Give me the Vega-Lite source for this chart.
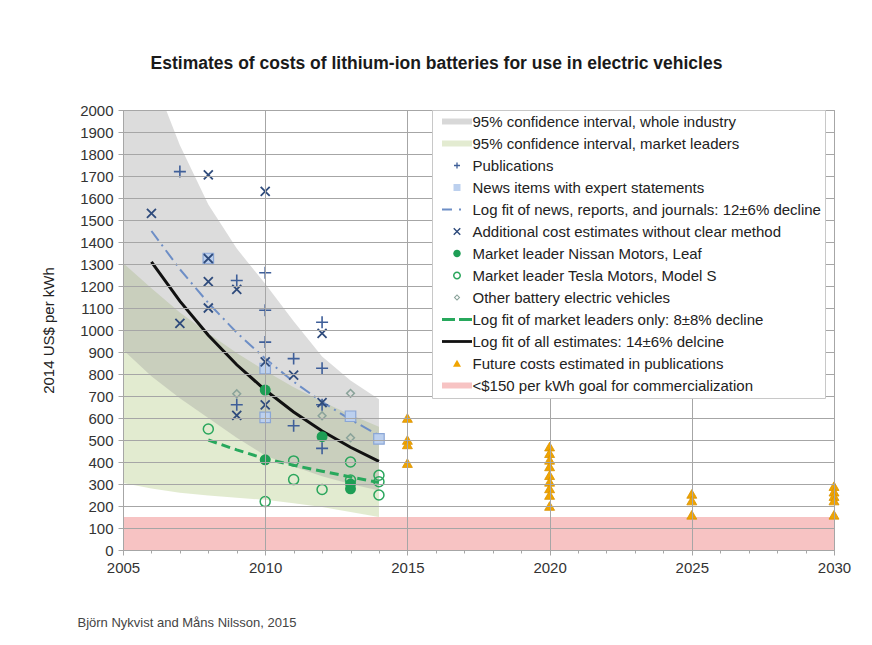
{
  "$schema": "https://vega.github.io/schema/vega-lite/v6.json",
  "autosize": {"type": "none"},
  "width": 711,
  "height": 440,
  "padding": {"left": 123, "top": 110, "right": 38, "bottom": 95},
  "background": "white",
  "title": {"text": "Estimates of costs of lithium-ion batteries for use in electric vehicles", "anchor": "middle", "frame": "group", "dx": -42, "offset": 31, "fontSize": 17.5, "fontWeight": "bold", "color": "#1a1a1a"},
  "datasets": {
    "bands": [
      {"series": "<$150 per kWh goal for commercialization", "year": 2005, "value": 150, "lo": 0},
      {"series": "<$150 per kWh goal for commercialization", "year": 2030, "value": 150, "lo": 0},
      {"series": "95% confidence interval, market leaders", "year": 2005, "value": 1304, "lo": 305},
      {"series": "95% confidence interval, market leaders", "year": 2006, "value": 1190, "lo": 280},
      {"series": "95% confidence interval, market leaders", "year": 2007, "value": 1080, "lo": 260},
      {"series": "95% confidence interval, market leaders", "year": 2008, "value": 985, "lo": 248},
      {"series": "95% confidence interval, market leaders", "year": 2009, "value": 895, "lo": 238},
      {"series": "95% confidence interval, market leaders", "year": 2010, "value": 815, "lo": 228},
      {"series": "95% confidence interval, market leaders", "year": 2011, "value": 740, "lo": 212},
      {"series": "95% confidence interval, market leaders", "year": 2012, "value": 675, "lo": 195},
      {"series": "95% confidence interval, market leaders", "year": 2013, "value": 615, "lo": 173},
      {"series": "95% confidence interval, market leaders", "year": 2014, "value": 560, "lo": 150},
      {"series": "95% confidence interval, whole industry", "year": 2005, "value": 2550, "lo": 910},
      {"series": "95% confidence interval, whole industry", "year": 2006, "value": 2170, "lo": 790},
      {"series": "95% confidence interval, whole industry", "year": 2007, "value": 1840, "lo": 690},
      {"series": "95% confidence interval, whole industry", "year": 2008, "value": 1570, "lo": 600},
      {"series": "95% confidence interval, whole industry", "year": 2009, "value": 1370, "lo": 510},
      {"series": "95% confidence interval, whole industry", "year": 2010, "value": 1210, "lo": 430},
      {"series": "95% confidence interval, whole industry", "year": 2011, "value": 1040, "lo": 380},
      {"series": "95% confidence interval, whole industry", "year": 2012, "value": 880, "lo": 335},
      {"series": "95% confidence interval, whole industry", "year": 2013, "value": 770, "lo": 300},
      {"series": "95% confidence interval, whole industry", "year": 2014, "value": 685, "lo": 270}
    ],
    "lines": [
      {"series": "Log fit of market leaders only: 8±8% decline", "year": 2008, "value": 500},
      {"series": "Log fit of market leaders only: 8±8% decline", "year": 2009, "value": 455},
      {"series": "Log fit of market leaders only: 8±8% decline", "year": 2010, "value": 415},
      {"series": "Log fit of market leaders only: 8±8% decline", "year": 2011, "value": 385},
      {"series": "Log fit of market leaders only: 8±8% decline", "year": 2012, "value": 358},
      {"series": "Log fit of market leaders only: 8±8% decline", "year": 2013, "value": 332},
      {"series": "Log fit of market leaders only: 8±8% decline", "year": 2014, "value": 307},
      {"series": "Log fit of news, reports, and journals: 12±6% decline", "year": 2006, "value": 1450},
      {"series": "Log fit of news, reports, and journals: 12±6% decline", "year": 2007, "value": 1276},
      {"series": "Log fit of news, reports, and journals: 12±6% decline", "year": 2008, "value": 1123},
      {"series": "Log fit of news, reports, and journals: 12±6% decline", "year": 2009, "value": 988},
      {"series": "Log fit of news, reports, and journals: 12±6% decline", "year": 2010, "value": 870},
      {"series": "Log fit of news, reports, and journals: 12±6% decline", "year": 2011, "value": 765},
      {"series": "Log fit of news, reports, and journals: 12±6% decline", "year": 2012, "value": 673},
      {"series": "Log fit of news, reports, and journals: 12±6% decline", "year": 2013, "value": 593},
      {"series": "Log fit of news, reports, and journals: 12±6% decline", "year": 2014, "value": 521},
      {"series": "Log fit of all estimates: 14±6% delcine", "year": 2006, "value": 1310},
      {"series": "Log fit of all estimates: 14±6% delcine", "year": 2007, "value": 1131},
      {"series": "Log fit of all estimates: 14±6% delcine", "year": 2008, "value": 976},
      {"series": "Log fit of all estimates: 14±6% delcine", "year": 2009, "value": 842},
      {"series": "Log fit of all estimates: 14±6% delcine", "year": 2010, "value": 727},
      {"series": "Log fit of all estimates: 14±6% delcine", "year": 2011, "value": 627},
      {"series": "Log fit of all estimates: 14±6% delcine", "year": 2012, "value": 541},
      {"series": "Log fit of all estimates: 14±6% delcine", "year": 2013, "value": 467},
      {"series": "Log fit of all estimates: 14±6% delcine", "year": 2014, "value": 403}
    ],
    "points": [
      {"series": "Publications", "year": 2007, "value": 1720},
      {"series": "Publications", "year": 2009, "value": 1225},
      {"series": "Publications", "year": 2010, "value": 1260},
      {"series": "Publications", "year": 2010, "value": 1090},
      {"series": "Publications", "year": 2010, "value": 945},
      {"series": "Publications", "year": 2011, "value": 870},
      {"series": "Publications", "year": 2012, "value": 1035},
      {"series": "Publications", "year": 2012, "value": 826},
      {"series": "Publications", "year": 2009, "value": 660},
      {"series": "Publications", "year": 2011, "value": 565},
      {"series": "Publications", "year": 2012, "value": 462},
      {"series": "Publications", "year": 2012, "value": 660},
      {"series": "Additional cost estimates without clear method", "year": 2006, "value": 1530},
      {"series": "Additional cost estimates without clear method", "year": 2008, "value": 1705},
      {"series": "Additional cost estimates without clear method", "year": 2010, "value": 1630},
      {"series": "Additional cost estimates without clear method", "year": 2008, "value": 1325},
      {"series": "Additional cost estimates without clear method", "year": 2008, "value": 1220},
      {"series": "Additional cost estimates without clear method", "year": 2008, "value": 1100},
      {"series": "Additional cost estimates without clear method", "year": 2007, "value": 1030},
      {"series": "Additional cost estimates without clear method", "year": 2009, "value": 1185},
      {"series": "Additional cost estimates without clear method", "year": 2012, "value": 985},
      {"series": "Additional cost estimates without clear method", "year": 2010, "value": 855},
      {"series": "Additional cost estimates without clear method", "year": 2011, "value": 795},
      {"series": "Additional cost estimates without clear method", "year": 2012, "value": 670},
      {"series": "Additional cost estimates without clear method", "year": 2009, "value": 612},
      {"series": "Additional cost estimates without clear method", "year": 2010, "value": 660},
      {"series": "News items with expert statements", "year": 2008, "value": 1325},
      {"series": "News items with expert statements", "year": 2010, "value": 825},
      {"series": "News items with expert statements", "year": 2010, "value": 603},
      {"series": "News items with expert statements", "year": 2013, "value": 608},
      {"series": "News items with expert statements", "year": 2014, "value": 505},
      {"series": "Market leader Nissan Motors, Leaf", "year": 2010, "value": 727},
      {"series": "Market leader Nissan Motors, Leaf", "year": 2010, "value": 410},
      {"series": "Market leader Nissan Motors, Leaf", "year": 2012, "value": 515},
      {"series": "Market leader Nissan Motors, Leaf", "year": 2013, "value": 300},
      {"series": "Market leader Nissan Motors, Leaf", "year": 2013, "value": 278},
      {"series": "Market leader Tesla Motors, Model S", "year": 2008, "value": 550},
      {"series": "Market leader Tesla Motors, Model S", "year": 2010, "value": 220},
      {"series": "Market leader Tesla Motors, Model S", "year": 2011, "value": 405},
      {"series": "Market leader Tesla Motors, Model S", "year": 2011, "value": 320},
      {"series": "Market leader Tesla Motors, Model S", "year": 2012, "value": 275},
      {"series": "Market leader Tesla Motors, Model S", "year": 2013, "value": 400},
      {"series": "Market leader Tesla Motors, Model S", "year": 2013, "value": 318},
      {"series": "Market leader Tesla Motors, Model S", "year": 2014, "value": 340},
      {"series": "Market leader Tesla Motors, Model S", "year": 2014, "value": 310},
      {"series": "Market leader Tesla Motors, Model S", "year": 2014, "value": 250},
      {"series": "Other battery electric vehicles", "year": 2009, "value": 710},
      {"series": "Other battery electric vehicles", "year": 2012, "value": 610},
      {"series": "Other battery electric vehicles", "year": 2013, "value": 712},
      {"series": "Other battery electric vehicles", "year": 2013, "value": 510},
      {"series": "Future costs estimated in publications", "year": 2015, "value": 600},
      {"series": "Future costs estimated in publications", "year": 2015, "value": 500},
      {"series": "Future costs estimated in publications", "year": 2015, "value": 480},
      {"series": "Future costs estimated in publications", "year": 2015, "value": 395},
      {"series": "Future costs estimated in publications", "year": 2020, "value": 470},
      {"series": "Future costs estimated in publications", "year": 2020, "value": 440},
      {"series": "Future costs estimated in publications", "year": 2020, "value": 410},
      {"series": "Future costs estimated in publications", "year": 2020, "value": 380},
      {"series": "Future costs estimated in publications", "year": 2020, "value": 340},
      {"series": "Future costs estimated in publications", "year": 2020, "value": 310},
      {"series": "Future costs estimated in publications", "year": 2020, "value": 280},
      {"series": "Future costs estimated in publications", "year": 2020, "value": 250},
      {"series": "Future costs estimated in publications", "year": 2020, "value": 200},
      {"series": "Future costs estimated in publications", "year": 2025, "value": 255},
      {"series": "Future costs estimated in publications", "year": 2025, "value": 225},
      {"series": "Future costs estimated in publications", "year": 2025, "value": 160},
      {"series": "Future costs estimated in publications", "year": 2030, "value": 290},
      {"series": "Future costs estimated in publications", "year": 2030, "value": 265},
      {"series": "Future costs estimated in publications", "year": 2030, "value": 245},
      {"series": "Future costs estimated in publications", "year": 2030, "value": 225},
      {"series": "Future costs estimated in publications", "year": 2030, "value": 160}
    ]
  },
  "encoding": {
    "x": {
      "field": "year", "type": "quantitative",
      "scale": {"domain": [2005, 2030], "nice": false, "zero": false},
      "axis": {
        "values": [2005,2006,2007,2008,2009,2010,2011,2012,2013,2014,2015,2016,2017,2018,2019,2020,2021,2022,2023,2024,2025,2026,2027,2028,2029,2030],
        "format": "d",
        "labelExpr": "datum.value % 5 === 0 ? datum.label : ''",
        "labelOverlap": false,
        "labelFlush": false,
        "labelBound": false,
        "grid": true,
        "gridColor": "#a6a6a6",
        "gridOpacity": {"condition": {"test": "datum.value % 5 === 0", "value": 1}, "value": 0},
        "tickSize": {"condition": {"test": "datum.value % 5 === 0", "value": 5}, "value": 3},
        "tickColor": "#a6a6a6",
        "domainColor": "#a6a6a6",
        "labelFontSize": 15,
        "labelColor": "#333333",
        "labelPadding": 5,
        "title": "Björn Nykvist and Måns Nilsson, 2015",
        "titleX": -46,
        "titleY": 72,
        "titleAlign": "left",
        "titleBaseline": "middle",
        "titleFontSize": 13,
        "titleFontWeight": "normal",
        "titleColor": "#444444",
        "zindex": 1
      }
    },
    "y": {
      "field": "value", "type": "quantitative",
      "scale": {"domain": [0, 2000], "nice": false, "zero": true},
      "axis": {
        "values": [0,100,200,300,400,500,600,700,800,900,1000,1100,1200,1300,1400,1500,1600,1700,1800,1900,2000],
        "format": "d",
        "grid": true,
        "gridColor": "#a6a6a6",
        "tickColor": "#a6a6a6",
        "tickSize": 5,
        "domainColor": "#a6a6a6",
        "labelFontSize": 15,
        "labelColor": "#333333",
        "labelPadding": 5,
        "title": "2014 US$ per kWh",
        "titleX": -75,
        "titleY": 220,
        "titleAngle": 270,
        "titleAlign": "center",
        "titleBaseline": "middle",
        "titleFontSize": 15,
        "titleFontWeight": "normal",
        "titleColor": "#222222",
        "zindex": 1
      }
    },
    "color": {
      "field": "series", "type": "nominal",
      "scale": {
        "domain": [
          "95% confidence interval, whole industry",
          "95% confidence interval, market leaders",
          "Publications",
          "News items with expert statements",
          "Log fit of news, reports, and journals: 12±6% decline",
          "Additional cost estimates without clear method",
          "Market leader Nissan Motors, Leaf",
          "Market leader Tesla Motors, Model S",
          "Other battery electric vehicles",
          "Log fit of market leaders only: 8±8% decline",
          "Log fit of all estimates: 14±6% delcine",
          "Future costs estimated in publications",
          "<$150 per kWh goal for commercialization"
        ],
        "range": ["#d8d8d8", "#e3ebd1", "#3f5f99", "#bcd0ee", "#6d8ec6", "#2f4b7c", "#1e9e55", "#2aa65c", "#8aa39a", "#27a85c", "#111111", "#f0a400", "#f7c3c3"]
      },
      "legend": {
        "title": null,
        "orient": "none",
        "legendX": 309,
        "legendY": 0,
        "fillColor": "white",
        "strokeColor": "#c8c8c8",
        "padding": 4,
        "symbolSize": 100,
        "symbolStrokeWidth": 0,
        "symbolOffset": -1.5,
        "labelOffset": 23,
        "labelFontSize": 15,
        "labelColor": "#222222",
        "labelLimit": 0,
        "rowPadding": 6,
        "zindex": 2,
        "encode": {
          "symbols": {
            "update": {
              "shape": {"signal": "['M0,-0.6H6V0.6H0Z','M0,-0.6H6V0.6H0Z','M2.4,-0.13H3.6V0.13H2.4ZM2.87,-0.6H3.13V0.6H2.87Z','M2.3,-0.7H3.7V0.7H2.3Z','M0,-0.2H2V0.2H0ZM3.4,-0.2H3.8V0.2H3.4Z','M2.45,-0.75L3.75,0.55L3.55,0.75L2.25,-0.55ZM2.25,0.55L3.55,-0.75L3.75,-0.55L2.45,0.75Z','M2.25,0A0.75,0.75 0 1,1 3.75,0A0.75,0.75 0 1,1 2.25,0Z','M2.2,0A0.8,0.8 0 1,1 3.8,0A0.8,0.8 0 1,1 2.2,0ZM2.5,0A0.5,0.5 0 1,0 3.5,0A0.5,0.5 0 1,0 2.5,0Z','M3,-0.65L3.65,0L3,0.65L2.35,0ZM3,-0.35L2.65,0L3,0.35L3.35,0Z','M0,-0.3H2.6V0.3H0ZM3.4,-0.3H6V0.3H3.4Z','M0,-0.28H6V0.28H0Z','M3,-0.75L3.8,0.65H2.2Z','M0,-0.6H6V0.6H0Z'][indexof(domain('color'), datum.value)]"},
              "strokeWidth": {"value": 0},
              "opacity": {"value": 1}
            }
          }
        }
      }
    }
  },
  "layer": [
    {
      "data": {"name": "bands"},
      "transform": [{"filter": "datum.series === '<$150 per kWh goal for commercialization'"}],
      "mark": {"type": "area", "opacity": 1, "clip": true},
      "encoding": {"y2": {"field": "lo"}}
    },
    {
      "data": {"name": "bands"},
      "transform": [{"filter": "datum.series === '95% confidence interval, market leaders'"}],
      "mark": {"type": "area", "opacity": 0.7, "clip": true},
      "encoding": {"y2": {"field": "lo"}, "color": {"value": "#d6e3bc"}}
    },
    {
      "data": {"name": "bands"},
      "transform": [{"filter": "datum.series === '95% confidence interval, whole industry'"}],
      "mark": {"type": "area", "opacity": 0.35, "clip": true},
      "encoding": {"y2": {"field": "lo"}, "color": {"value": "#9a9a9a"}}
    },
    {
      "data": {"name": "lines"},
      "transform": [{"filter": "datum.series === 'Log fit of news, reports, and journals: 12±6% decline'"}],
      "mark": {"type": "line", "strokeWidth": 2, "strokeDash": [12, 5, 2, 5]}
    },
    {
      "data": {"name": "points"},
      "transform": [{"filter": "datum.series === 'Other battery electric vehicles'"}],
      "mark": {"type": "point", "shape": "diamond", "filled": false, "size": 60, "strokeWidth": 1.5, "opacity": 1}
    },
    {
      "data": {"name": "points"},
      "transform": [{"filter": "datum.series === 'News items with expert statements'"}],
      "mark": {"type": "point", "shape": "square", "filled": true, "size": 110, "stroke": "#8aa6d6", "strokeWidth": 1.2, "opacity": 1}
    },
    {
      "data": {"name": "points"},
      "transform": [{"filter": "datum.series === 'Publications'"}],
      "mark": {"type": "point", "shape": "M-1,0H1M0,-1V1", "filled": false, "size": 144, "strokeWidth": 1.6, "opacity": 1}
    },
    {
      "data": {"name": "points"},
      "transform": [{"filter": "datum.series === 'Additional cost estimates without clear method'"}],
      "mark": {"type": "point", "shape": "M-1,-1L1,1M-1,1L1,-1", "filled": false, "size": 81, "strokeWidth": 1.8, "opacity": 1}
    },
    {
      "data": {"name": "lines"},
      "transform": [{"filter": "datum.series === 'Log fit of market leaders only: 8±8% decline'"}],
      "mark": {"type": "line", "strokeWidth": 3, "strokeDash": [9, 5]}
    },
    {
      "data": {"name": "points"},
      "transform": [{"filter": "datum.series === 'Market leader Tesla Motors, Model S'"}],
      "mark": {"type": "point", "shape": "circle", "filled": false, "size": 100, "strokeWidth": 1.5, "opacity": 1}
    },
    {
      "data": {"name": "lines"},
      "transform": [{"filter": "datum.series === 'Log fit of all estimates: 14±6% delcine'"}],
      "mark": {"type": "line", "strokeWidth": 3}
    },
    {
      "data": {"name": "points"},
      "transform": [{"filter": "datum.series === 'Market leader Nissan Motors, Leaf'"}],
      "mark": {"type": "point", "shape": "circle", "filled": true, "size": 120, "opacity": 1}
    },
    {
      "data": {"name": "points"},
      "transform": [{"filter": "datum.series === 'Future costs estimated in publications'"}],
      "mark": {"type": "point", "shape": "triangle-up", "filled": true, "size": 100, "stroke": "#d99200", "strokeWidth": 0.8, "opacity": 1}
    }
  ],
  "config": {
    "font": "Liberation Sans",
    "view": {"stroke": "#9a9a9a"}
  }
}
